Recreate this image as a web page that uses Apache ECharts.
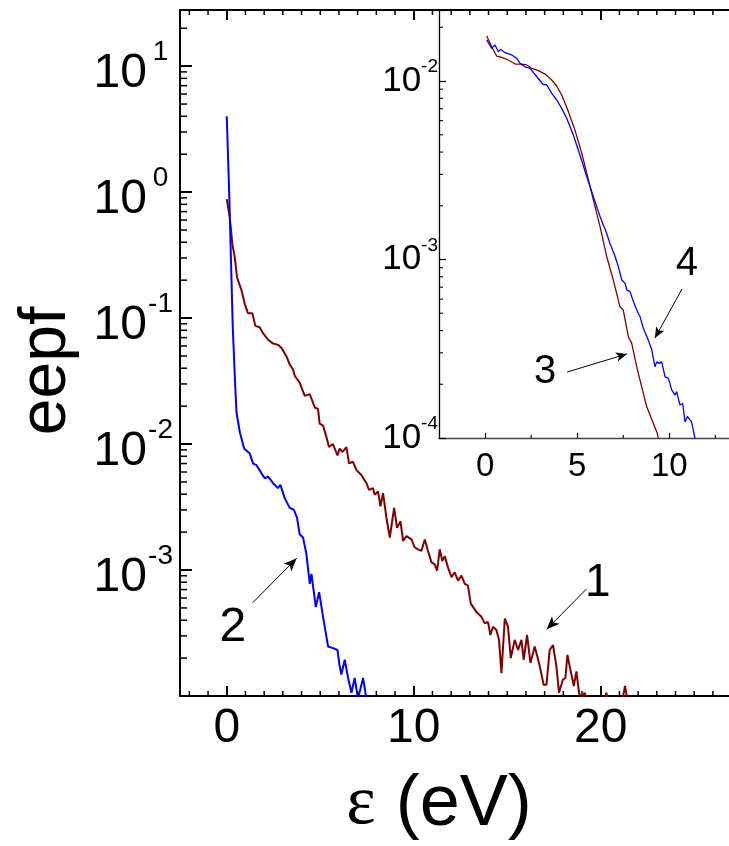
<!DOCTYPE html>
<html>
<head>
<meta charset="utf-8">
<script src="https://cdn.jsdelivr.net/npm/echarts@6/dist/echarts.min.js"></script>
<style>html,body{margin:0;padding:0;background:#fff}#c{width:729px;height:846px}</style>
</head>
<body>
<div id="c"></div>
<script>
// ---- Main panel, curve 1 (dark red) ----
var c1x = [0,0.16,0.30,0.43,0.55,0.79,0.96,1.14,1.37,1.53,1.76,1.94,2.21,2.48,2.74,2.93,3.19,3.37,3.55,3.64,3.90,4.17,4.44,4.71,4.88,4.97,5.15,5.33,5.47,5.68,5.92,6.04,6.19,6.40,6.54,6.75,6.94,7.20,7.47,7.61,7.82,7.91,8.09,8.22,8.36,8.54,8.72,8.95,9.11,9.29,9.43,9.61,9.88,10.05,10.23,10.41,10.59,10.76,10.95,11.12,11.25,11.39,11.53,11.66,11.83,12.02,12.19,12.37,12.55,12.73,12.90,13.05,13.35,13.62,13.80,13.97,14.10,14.24,14.42,14.56,14.69,14.87,15.04,15.19,15.40,15.58,15.76,15.88,16.06,16.24,16.47,16.70,16.95,17.10,17.27,17.45,17.63,17.77,17.98,18.11,18.22,18.34,18.43,18.56,18.70,18.84,18.97,19.14,19.24,19.6,20.1,20.3,20.5,21.0,21.3,21.5,22.0];
var c1y = [0.88,0.63,0.386,0.303,0.211,0.166,0.130,0.109,0.109,0.0867,0.0845,0.0759,0.0673,0.0627,0.0615,0.0578,0.0498,0.0428,0.0391,0.0347,0.0307,0.0241,0.0249,0.0195,0.0190,0.0145,0.0140,0.0114,0.00947,0.0100,0.00814,0.0092,0.00865,0.00947,0.00702,0.00723,0.00621,0.00568,0.00489,0.00433,0.00447,0.00395,0.0042,0.0032,0.00408,0.00259,0.00181,0.00311,0.00216,0.00244,0.0017,0.00186,0.00175,0.00151,0.00146,0.00142,0.00175,0.00142,0.00115,0.00111,0.00099,0.00146,0.00118,0.00129,0.00105,0.000877,0.000959,0.000824,0.000902,0.000776,0.000753,0.000541,0.000465,0.000425,0.000377,0.000388,0.000305,0.000355,0.000334,0.000279,0.000152,0.000412,0.000355,0.0002,0.000279,0.000232,0.000279,0.000194,0.000305,0.000183,0.000247,0.000183,0.000123,0.000123,0.000232,0.000254,0.000172,0.000106,0.000135,0.000139,0.000212,0.000172,0.000177,0.00012,0.000157,0.000106,0.000095,0.000106,0.000095,0.00007,0.00008,0.000106,0.00008,0.00007,0.00012,0.00008,0.00006];
// ---- Main panel, curve 2 (blue) ----
var c2x = [0,0.13,0.32,0.43,0.52,0.70,0.93,1.23,1.41,1.59,1.86,2.03,2.21,2.48,2.74,2.87,3.10,3.37,3.59,3.76,3.90,4.08,4.26,4.44,4.53,4.76,4.94,5.15,5.42,5.68,5.92,6.04,6.13,6.31,6.49,6.67,6.84,7.02,7.29,7.47];
var c2y = [4.0,1.0,0.086,0.0347,0.0178,0.0124,0.0092,0.0084,0.0070,0.0068,0.00585,0.00535,0.00551,0.00489,0.00447,0.00474,0.00372,0.00311,0.00301,0.00259,0.00192,0.00181,0.00134,0.000776,0.000931,0.000509,0.000668,0.000425,0.000247,0.00024,0.000232,0.000172,0.000148,0.000194,0.000139,0.000106,0.000139,0.000095,0.000139,0.000095];
// ---- Inset, curve 3 (dark red) ----
var c3x = [0.09,0.36,0.63,0.91,1.26,1.63,1.99,2.26,2.53,2.89,3.26,3.62,3.89,4.16,4.52,4.88,5.25,5.61,5.88,6.24,6.60,6.96,7.32,7.50,7.78,7.96,8.23,8.41,8.77,9.13,9.35,9.40,9.5];
var c3y = [0.01786,0.01556,0.0138,0.01358,0.01312,0.01245,0.01245,0.0123,0.01178,0.01143,0.01094,0.01013,0.00938,0.00835,0.00674,0.00531,0.00393,0.00279,0.00215,0.00153,0.00104,0.000768,0.000544,0.000521,0.000369,0.000339,0.000251,0.000211,0.00015,0.000121,0.000106,0.0001,0.000095];
// ---- Inset, curve 4 (blue) ----
var c4x = [0.09,0.36,0.54,0.72,0.85,1.09,1.45,1.72,1.90,2.17,2.44,2.81,3.13,3.35,3.62,3.89,4.16,4.43,4.79,5.15,5.52,5.88,6.24,6.42,6.57,6.78,7.06,7.23,7.42,7.60,7.69,7.87,8.05,8.23,8.41,8.59,8.86,9.05,9.22,9.32,9.46,9.59,9.77,9.95,10.13,10.31,10.40,10.58,10.73,10.85,10.98,11.21,11.39,11.5];
var c4y = [0.0170,0.01525,0.01592,0.01459,0.01505,0.01442,0.0140,0.0134,0.01256,0.01202,0.01178,0.01057,0.00962,0.0095,0.00853,0.00783,0.00703,0.00618,0.00498,0.00385,0.00291,0.00225,0.00174,0.00156,0.00143,0.00123,0.00104,0.000912,0.000768,0.000736,0.000675,0.000661,0.000581,0.000521,0.000479,0.000412,0.000354,0.000311,0.000251,0.000267,0.000262,0.000267,0.00022,0.000216,0.000186,0.000174,0.000182,0.000153,0.000156,0.000123,0.000132,0.000123,0.0001,0.00009];
// ---- Axis ticks ----
var mainXTicks = [0,10,20];
var insetXTicks = [0,5,10];
var insetXMinor = [2.5,7.5,12.5];

function zip(xs, ys){ return xs.map(function(x,i){ return [x, ys[i]]; }); }
var FONT = 'Liberation Sans, Arial, sans-serif';
var MAIN_XMAX = 26.86, INSET_XMAX = 13.24, MAIN_YMAX = 27.9, INSET_YMAX = 0.025;
function decadeLabel(v, skipMin){
  var l = Math.log10(v), e = Math.round(l);
  if (Math.abs(l - e) > 1e-6 || e === skipMin) return '';
  return '{b|10}{s|' + e + '}';
}
var chart = echarts.init(document.getElementById('c'));
var option = {
  animation: false,
  backgroundColor: '#fff',
  grid: [
    {left: 180, top: 10, right: 0, height: 693, containLabel: false},
    {left: 439, top: 10, right: 0, height: 428, containLabel: false}
  ],
  xAxis: [
    {gridIndex: 0, type: 'value', position: 'bottom', min: -2.5, max: MAIN_XMAX,
     name: '{eps|ε}{t| (eV)}', nameLocation: 'middle', nameGap: 73,
     nameTextStyle: {padding: [0, 31, 0, 0], rich: {
       eps: {fontFamily: 'Liberation Serif, Times New Roman, serif', fontSize: 70, color: '#000'},
       t: {fontFamily: FONT, fontSize: 72, color: '#000'}}},
     axisLine: {show: true, onZero: false, lineStyle: {color: '#000', width: 2}},
     axisTick: {show: true, inside: true, length: 10, lineStyle: {color: '#000', width: 2}, customValues: mainXTicks},
     axisLabel: {show: true, margin: 9, fontSize: 48, fontFamily: FONT, color: '#000', customValues: mainXTicks},
     splitLine: {show: false}},
    {gridIndex: 0, type: 'value', position: 'top', min: -2.5, max: MAIN_XMAX,
     axisLine: {show: true, onZero: false, lineStyle: {color: '#000', width: 2}},
     axisTick: {show: true, inside: true, length: 10, lineStyle: {color: '#000', width: 2}, customValues: mainXTicks},
     axisLabel: {show: false}, splitLine: {show: false}},
    {gridIndex: 1, type: 'value', position: 'bottom', min: -2.5, max: INSET_XMAX,
     axisLine: {show: true, onZero: false, lineStyle: {color: '#444', width: 1.3}},
     axisTick: {show: true, inside: true, length: 5, lineStyle: {color: '#000', width: 1.2}, customValues: insetXTicks},
     axisLabel: {show: true, margin: 12, fontSize: 33, fontFamily: FONT, color: '#000', customValues: insetXTicks},
     splitLine: {show: false}}
  ],
  yAxis: [
    {gridIndex: 0, type: 'log', logBase: 10, min: 1e-4, max: MAIN_YMAX,
     name: 'eepf', nameLocation: 'middle', nameGap: 100, nameRotate: 90,
     nameTextStyle: {fontFamily: FONT, fontSize: 66, color: '#000', padding: [0, 36, 0, 0]},
     axisLine: {show: true, onZero: false, lineStyle: {color: '#000', width: 2}},
     axisTick: {show: true, inside: true, length: 12, lineStyle: {color: '#000', width: 2}},
     axisLabel: {show: true, margin: 6, color: '#000',
       formatter: function(v){ return decadeLabel(v, -4); },
       rich: {
         b: {fontFamily: FONT, fontSize: 48, lineHeight: 56, padding: [16,0,0,0], color: '#000'},
         s: {fontFamily: FONT, fontSize: 28, lineHeight: 30, padding: [0,0,28,0], width: 27, align: 'left', color: '#000'}
       }},
     splitLine: {show: false}},
    {gridIndex: 1, type: 'log', logBase: 10, min: 1e-4, max: INSET_YMAX,
     axisLine: {show: true, onZero: false, lineStyle: {color: '#000', width: 1.3}},
     axisTick: {show: true, inside: true, length: 7, lineStyle: {color: '#000', width: 1.2}},
     axisLabel: {show: true, margin: 1, color: '#000',
       formatter: function(v){ return decadeLabel(v, null); },
       rich: {
         b: {fontFamily: FONT, fontSize: 35, lineHeight: 40, color: '#000'},
         s: {fontFamily: FONT, fontSize: 19, lineHeight: 22, padding: [0,0,28,0], color: '#000'}
       }},
     splitLine: {show: false}}
  ],
  series: [
    {name: '1', type: 'line', xAxisIndex: 0, yAxisIndex: 0, data: zip(c1x, c1y), showSymbol: false, symbol: 'none',
     lineStyle: {color: '#800000', width: 2}, itemStyle: {color: '#800000'}, clip: true,
     markLine: {silent: true, symbol: ['none', 'arrow'], symbolSize: [8, 13], label: {show: false},
       lineStyle: {color: '#000', width: 1, type: 'solid'},
       data: [[{coord: [19.25, 7.1e-4]}, {coord: [17.11, 3.38e-4]}]]},
     markPoint: {symbol: 'circle', symbolSize: 1, itemStyle: {color: 'rgba(0,0,0,0)'},
       label: {show: true, position: 'inside', fontFamily: FONT, fontSize: 46, color: '#000', formatter: '{b}'},
       data: [{name: '1', coord: [19.84, 7.9e-4]}]}},
    {name: '2', type: 'line', xAxisIndex: 0, yAxisIndex: 0, data: zip(c2x, c2y), showSymbol: false, symbol: 'none',
     lineStyle: {color: '#0000ff', width: 2}, itemStyle: {color: '#0000ff'}, clip: true,
     markLine: {silent: true, symbol: ['none', 'arrow'], symbolSize: [8, 13], label: {show: false},
       lineStyle: {color: '#000', width: 1, type: 'solid'},
       data: [[{coord: [1.39, 5.5e-4]}, {coord: [3.74, 1.24e-3]}]]},
     markPoint: {symbol: 'circle', symbolSize: 1, itemStyle: {color: 'rgba(0,0,0,0)'},
       label: {show: true, position: 'inside', fontFamily: FONT, fontSize: 48, color: '#000', formatter: '{b}'},
       data: [{name: '2', coord: [0.32, 3.5e-4]}]}},
    {name: '3', type: 'line', xAxisIndex: 2, yAxisIndex: 1, data: zip(c3x, c3y), showSymbol: false, symbol: 'none',
     lineStyle: {color: '#800000', width: 1.3}, itemStyle: {color: '#800000'}, clip: true,
     markLine: {silent: true, symbol: ['none', 'arrow'], symbolSize: [7, 11], label: {show: false},
       lineStyle: {color: '#000', width: 1, type: 'solid'},
       data: [[{coord: [4.45, 2.34e-4]}, {coord: [7.70, 2.96e-4]}]]},
     markPoint: {symbol: 'circle', symbolSize: 1, itemStyle: {color: 'rgba(0,0,0,0)'},
       label: {show: true, position: 'inside', fontFamily: FONT, fontSize: 40, color: '#000', formatter: '{b}'},
       data: [{name: '3', coord: [3.26, 2.34e-4]}]}},
    {name: '4', type: 'line', xAxisIndex: 2, yAxisIndex: 1, data: zip(c4x, c4y), showSymbol: false, symbol: 'none',
     lineStyle: {color: '#0000ff', width: 1.3}, itemStyle: {color: '#0000ff'}, clip: true,
     markLine: {silent: true, symbol: ['none', 'arrow'], symbolSize: [7, 11], label: {show: false},
       lineStyle: {color: '#000', width: 1, type: 'solid'},
       data: [[{coord: [10.69, 6.84e-4]}, {coord: [9.22, 3.63e-4]}]]},
     markPoint: {symbol: 'circle', symbolSize: 1, itemStyle: {color: 'rgba(0,0,0,0)'},
       label: {show: true, position: 'inside', fontFamily: FONT, fontSize: 40, color: '#000', formatter: '{b}'},
       data: [{name: '4', coord: [10.96, 9.4e-4]}]}}
  ]
};
chart.setOption(option);

// Minor ticks, placed through the axes' own scales
var els = [];
function tick(x1, y1, x2, y2, w){
  els.push({type: 'line', silent: true, z: 10, shape: {x1: x1, y1: y1, x2: x2, y2: y2}, style: {stroke: '#000', lineWidth: w}});
}
for (var k = -4; k <= 1; k++) {
  for (var m = 2; m <= 9; m++) {
    var v = m * Math.pow(10, k);
    if (v > MAIN_YMAX) continue;
    var p = chart.convertToPixel({xAxisIndex: 0, yAxisIndex: 0}, [-2.5, v]);
    tick(p[0], p[1], p[0] + 7, p[1], 1.5);
  }
}
for (var xi = -2; xi <= 26; xi++) {
  if (xi % 10 === 0) continue;
  var pb = chart.convertToPixel({xAxisIndex: 0, yAxisIndex: 0}, [xi, 1e-4]);
  var pt = chart.convertToPixel({xAxisIndex: 0, yAxisIndex: 0}, [xi, MAIN_YMAX]);
  tick(pb[0], pb[1], pb[0], pb[1] - 5, 1.5);
  tick(pt[0], pt[1], pt[0], pt[1] + 5, 1.5);
}
for (var k2 = -4; k2 <= -2; k2++) {
  for (var m2 = 2; m2 <= 9; m2++) {
    var v2 = m2 * Math.pow(10, k2);
    if (v2 > INSET_YMAX) continue;
    var q = chart.convertToPixel({xAxisIndex: 2, yAxisIndex: 1}, [-2.5, v2]);
    tick(q[0], q[1], q[0] + 4, q[1], 1.1);
  }
}
insetXMinor.forEach(function(xv){
  var q2 = chart.convertToPixel({xAxisIndex: 2, yAxisIndex: 1}, [xv, 1e-4]);
  tick(q2[0], q2[1], q2[0], q2[1] - 3, 1.1);
});
chart.setOption({graphic: {elements: els}});
</script>
</body>
</html>
